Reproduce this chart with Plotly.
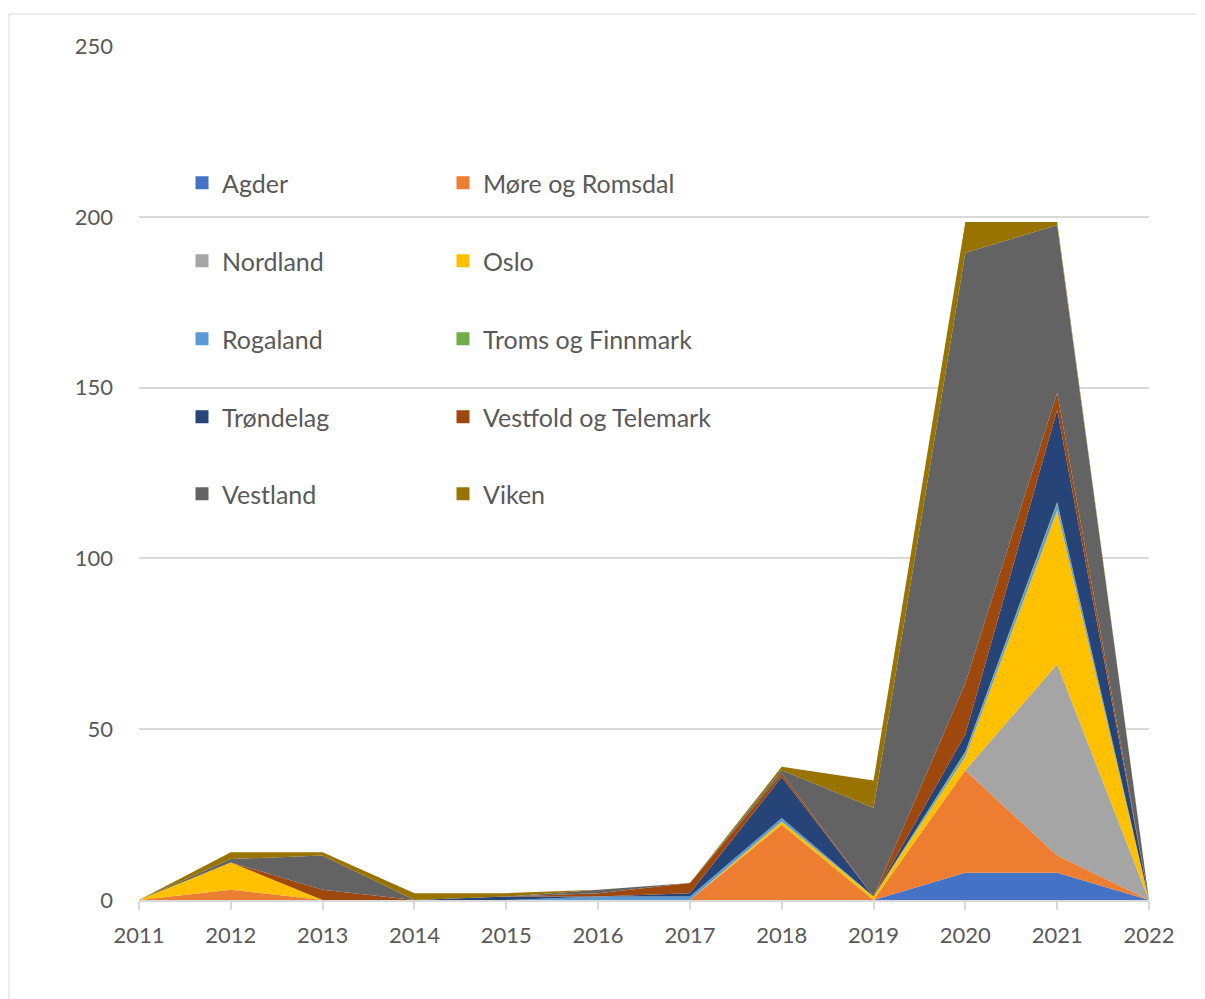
import plotly.graph_objects as go

years = [2011, 2012, 2013, 2014, 2015, 2016, 2017, 2018, 2019, 2020, 2021, 2022]
regions = ["Agder", "Møre og Romsdal", "Nordland", "Oslo", "Rogaland",
           "Troms og Finnmark", "Trøndelag", "Vestfold og Telemark", "Vestland", "Viken"]

agder     = [0, 0, 0, 0, 0, 0, 0, 0, 0, 8, 8, 0]
more      = [0, 3, 0, 0, 0, 0, 0, 22, 0, 30, 5, 0]
nordland  = [0, 0, 0, 0, 0, 0, 0, 0, 0, 0, 56, 0]
oslo      = [0, 8, 0, 0, 0, 0, 0, 1, 1, 4, 45, 0]
rogaland  = [0, 0, 0, 0, 0, 1, 1, 1, 0, 1, 2, 0]
troms     = [0, 0, 0, 0, 0, 0, 0, 0, 0, 0.5, 0.5, 0]
trondelag = [0, 0, 0, 0, 1, 0, 1, 12, 0, 5, 27, 0]
vestfold  = [0, 0, 3, 0, 0, 1, 3, 1, 0, 15, 5, 0]
vestland  = [0, 1, 10, 0, 0, 1, 0, 1, 26, 126, 49, 0]
viken     = [0, 2, 1, 2, 1, 0, 0, 1, 8, 9, 1, 0]

series = [agder, more, nordland, oslo, rogaland, troms, trondelag, vestfold, vestland, viken]
colors = ["#4472C4", "#ED7D31", "#A5A5A5", "#FFC000", "#5B9BD5",
          "#70AD47", "#264478", "#9E480E", "#636363", "#997300"]

FONT = "Lato"
TXT = "#595959"
OFF = 8  # page body margin
W, H = 1205, 999
L, T = 139 - OFF, 46 - OFF
R = W - (1149 - OFF)
B = H - (900 - OFF)
PW, PH = W - L - R, H - T - B

fig = go.Figure()
for name, vals, col in zip(regions, series, colors):
    fig.add_trace(go.Scatter(
        x=years, y=vals, name=name, stackgroup="one", mode="lines",
        line=dict(width=0, color=col), fillcolor=col, showlegend=False,
    ))

# legend: 2 columns x 5 rows, one legend per entry for exact placement
col_x = [182, 443]          # screen x of legend box start
row_y = [183, 261, 339, 417, 494]  # screen y of row centre
legend_layouts = {}
for i, (name, col) in enumerate(zip(regions, colors)):
    key = "legend" if i == 0 else f"legend{i+1}"
    fig.add_trace(go.Scatter(
        x=[None], y=[None], mode="markers", name=name,
        marker=dict(symbol="square", size=13, color=col),
        legend=key, showlegend=True,
    ))
    legend_layouts[key] = dict(
        x=(col_x[i % 2] - OFF - L) / PW, y=(H - B - (row_y[i // 2] - OFF)) / PH,
        xref="paper", yref="paper",
        xanchor="left", yanchor="middle",
        bgcolor="rgba(0,0,0,0)", borderwidth=0,
        font=dict(family=FONT, size=25, color=TXT),
    )

fig.update_layout(
    width=W, height=H,
    margin=dict(l=L, r=R, t=T, b=B, autoexpand=False),
    paper_bgcolor="white", plot_bgcolor="white",
    font=dict(family=FONT, size=22, color=TXT),
    xaxis=dict(
        range=[2011, 2022], tickmode="array", tickvals=years,
        ticktext=[str(y) for y in years], tickangle=0,
        showgrid=False, zeroline=False,
        showline=True, linecolor="#D9D9D9", linewidth=1.5,
        ticks="outside", ticklen=8, tickcolor="#D9D9D9", tickwidth=1.5,
        ticklabelstandoff=7,
        tickfont=dict(family=FONT, size=22, color=TXT),
    ),
    yaxis=dict(
        range=[0, 250], tickmode="array", tickvals=[0, 50, 100, 150, 200, 250],
        showgrid=True, gridcolor="#D9D9D9", gridwidth=1.5,
        zeroline=False, showline=False, ticks="",
        ticklabelstandoff=25,
        tickfont=dict(family=FONT, size=22, color=TXT),
    ),
    shapes=[dict(
        type="rect", xref="paper", yref="paper",
        x0=(9 - OFF - L) / PW, x1=1.2, y0=-0.3, y1=(H - B - (14 - OFF)) / PH,
        line=dict(color="#D9D9D9", width=1), fillcolor="rgba(0,0,0,0)", layer="below",
    )],
    **legend_layouts,
)

fig.write_html("out.html")
